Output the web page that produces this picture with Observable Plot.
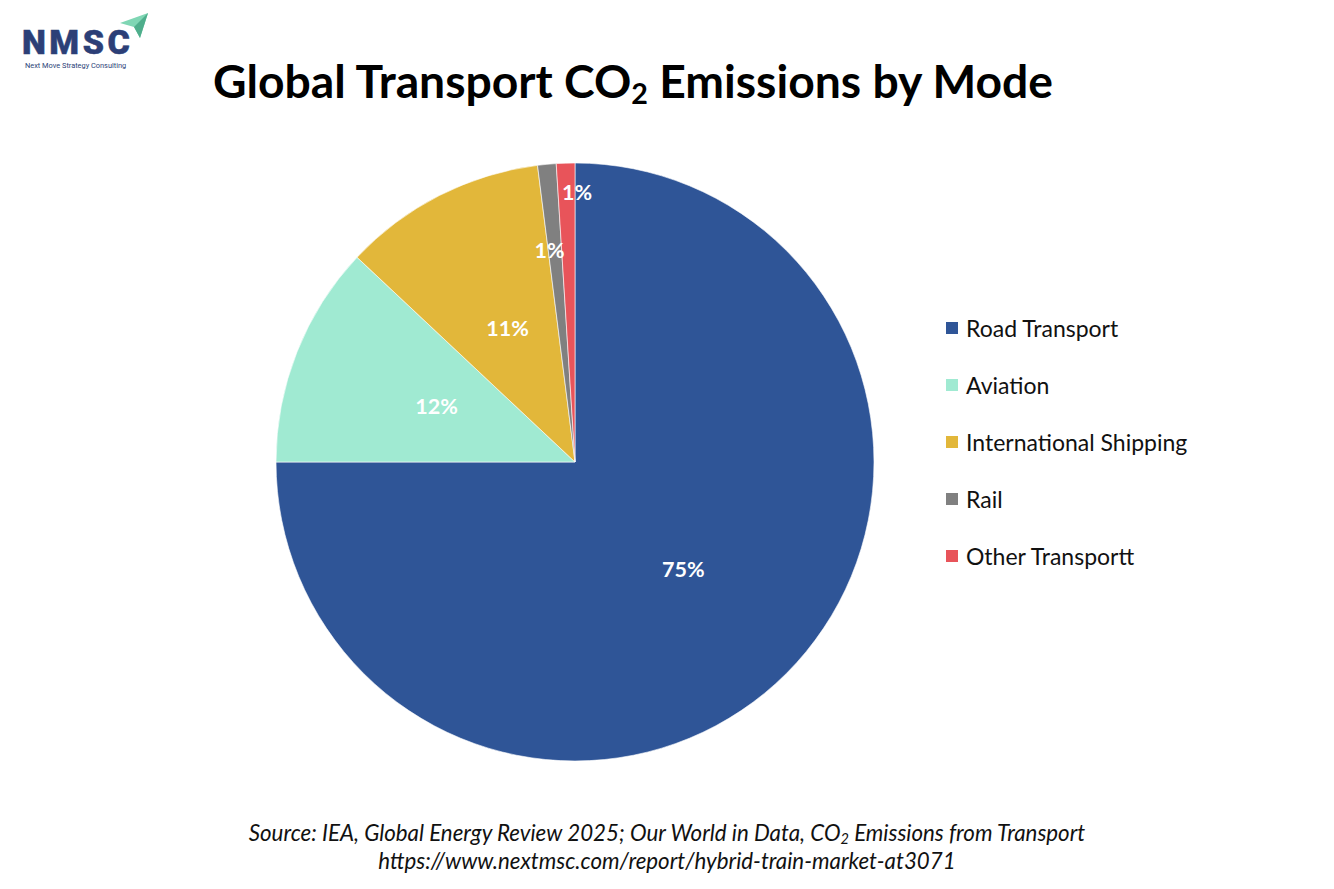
<!DOCTYPE html>
<html>
<head>
<meta charset="utf-8">
<script src="https://cdn.jsdelivr.net/npm/d3@7"></script>
<script src="https://cdn.jsdelivr.net/npm/@observablehq/plot@0.6"></script>
<style>
  html, body { margin: 0; padding: 0; background: #fff; }
  body { width: 1334px; height: 889px; position: relative; overflow: hidden; font-family: Lato, "Open Sans", sans-serif; }
  #logo { position: absolute; left: 22px; top: 8px; }
  #title { position: absolute; left: 0; top: 52px; width: 1266px; text-align: center; font-weight: 700; font-size: 46px; color: #000; white-space: nowrap; }
  #title sub { font-size: 0.62em; vertical-align: -0.22em; line-height: 0; }
  #chart { position: absolute; left: 0; top: 130px; }
  #legend { position: absolute; left: 946px; top: 299px; }
  .item { display: flex; align-items: center; height: 57px; margin: 0; }
  .item .sw { width: 12px; height: 12px; margin-right: 8px; margin-top: 1px; }
  .item span { font-size: 23px; color: #111; white-space: nowrap; }
  #source { position: absolute; left: 0; top: 819px; width: 1334px; text-align: center; font-style: italic; font-size: 22.3px; line-height: 28px; color: #111; }
  #source sub { font-size: 0.65em; vertical-align: -0.2em; line-height: 0; }
</style>
</head>
<body>
<div id="logo">
  <svg width="130" height="64" viewBox="0 0 130 64">
    <polygon points="98,15 126,5 118,30 112,19" fill="#7fd6b4"/>
    <polygon points="112,19 126,5 118,30" fill="#4fae8c"/>
    <text x="0" y="46" font-family="Roboto, 'DejaVu Sans', sans-serif" font-weight="900" font-size="34" fill="#2c3f77" letter-spacing="3.5" stroke="#2c3f77" stroke-width="0.5">NMSC</text>
    <text x="3" y="60" font-family="Roboto, sans-serif" font-size="7.4" fill="#2c3f77">Next Move Strategy Consulting</text>
  </svg>
</div>
<div id="title">Global Transport CO<sub>2</sub> Emissions by Mode</div>
<div id="chart"></div>
<div id="legend"></div>
<div id="source">Source: IEA, Global Energy Review 2025; Our World in Data, CO<sub>2</sub> Emissions from Transport<br>https://www.nextmsc.com/report/hybrid-train-market-at3071</div>
<script>
// ---- data ----
const categories = ["Road Transport", "Aviation", "International Shipping", "Rail", "Other Transportt"];
const shares = [75, 12, 11, 1, 1];
const labels = ["75%", "12%", "11%", "1%", "1%"];
const colors = ["#2F5597", "#A0EAD2", "#E2B73A", "#808080", "#E8545A"];

// ---- build table ----
const data = categories.map((c, i) => ({category: c, share: shares[i], label: labels[i]}));
const arcs = d3.pie().sort(null).value(d => d.share)(data);

// label radius (fraction of pie radius) – small slices pushed outward like the source chart
const labelRadius = [0.51, 0.5, 0.5, 0.71, 0.9];
const labelDx = [0, 0, 0, -6, 10];
const labelData = arcs.map((a, i) => {
  const mid = (a.startAngle + a.endAngle) / 2;
  const r = labelRadius[i];
  return {x: r * Math.sin(mid), y: r * Math.cos(mid), text: a.data.label, dx: labelDx[i]};
});

function pieMark(index, scales, values, dimensions) {
  const cx = scales.x(0), cy = scales.y(0);
  const R = scales.x(1) - scales.x(0);
  const arcGen = d3.arc().innerRadius(0).outerRadius(R);
  const g = d3.create("svg:g").attr("transform", `translate(${cx},${cy})`);
  g.selectAll("path").data(arcs).join("path")
    .attr("d", arcGen)
    .attr("fill", d => scales.color(d.data.category))
    .attr("stroke", "#ffffff")
    .attr("stroke-width", 0.6)
    .attr("stroke-linejoin", "round");
  return g.node();
}

const chart = Plot.plot({
  width: 1334,
  height: 670,
  marginLeft: 276,
  marginRight: 460,
  marginTop: 33,
  marginBottom: 39,
  x: {domain: [-1, 1], axis: null},
  y: {domain: [-1, 1], axis: null},
  color: {domain: categories, range: colors},
  style: {background: "transparent", overflow: "visible"},
  marks: [
    Plot.dot(data, {x: () => 0, y: () => 0, r: 0, fill: "category"}),
    pieMark,
    ...labelData.map(d => Plot.text([d], {x: "x", y: "y", text: "text", dx: d.dx, fill: "white", fontWeight: "bold", fontSize: 21.5, fontFamily: "Lato, sans-serif"}))
  ]
});
document.getElementById("chart").appendChild(chart);

// ---- legend (HTML, from the same arrays) ----
const legend = document.getElementById("legend");
categories.forEach((c, i) => {
  const row = document.createElement("div");
  row.className = "item";
  const sw = document.createElement("div");
  sw.className = "sw";
  sw.style.background = colors[i];
  const t = document.createElement("span");
  t.textContent = c;
  row.appendChild(sw); row.appendChild(t);
  legend.appendChild(row);
});

// fit title width to the reference (~840px)
(function fit(el, target) {
  const range = document.createRange();
  range.selectNodeContents(el);
  const w = range.getBoundingClientRect().width;
  const fs = parseFloat(getComputedStyle(el).fontSize);
  el.style.fontSize = (fs * target / w) + "px";
})(document.getElementById("title"), 840);
</script>
</body>
</html>
